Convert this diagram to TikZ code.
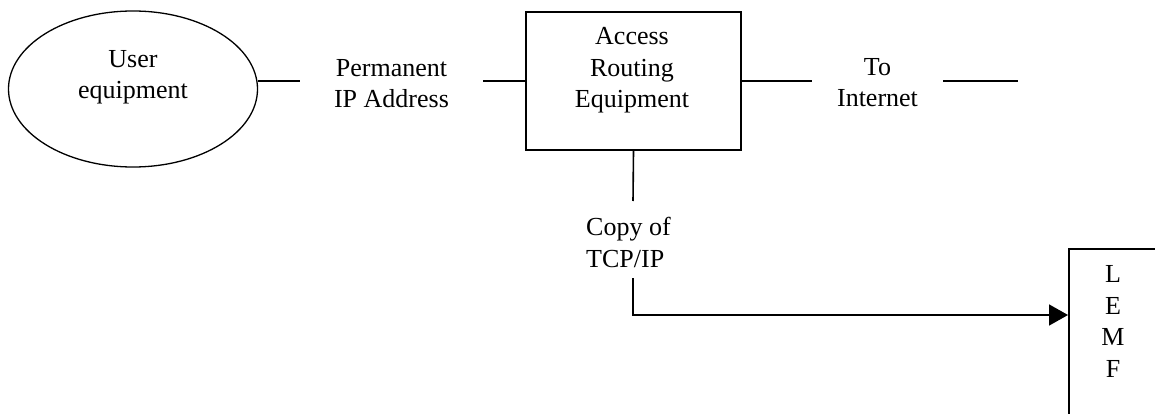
\documentclass[tikz,border=0pt]{standalone}
\usepackage{fontspec}
\setmainfont{Liberation Serif}
\usetikzlibrary{arrows.meta,shapes.geometric}
\begin{document}
\begin{tikzpicture}[x=1pt,y=-1pt,
  every node/.style={font=\fontsize{26}{31.5}\selectfont},
  wire/.style={line width=1.6pt},
  lbl/.style={inner sep=0pt, align=center, anchor=base},
  blk/.style={draw, line width=1.6pt, inner sep=0pt}]
\useasboundingbox (0,0) rectangle (1155,414);
\clip (0,0) rectangle (1155,414);
% shapes
\node[ellipse, draw, line width=1.3pt, minimum width=249pt, minimum height=156pt, inner sep=0pt] (ue) at (133,89) {};
\node[lbl] (uetext) at (133,99) {User\\equipment};
\node[blk, minimum width=215pt, minimum height=138pt] (ar) at (633.5,81) {};
\node[lbl] (artext) at (632,108) {Access\\Routing\\Equipment};
\node[blk, anchor=north west, minimum width=140pt, minimum height=220pt] (lemf) at (1068,248) {};
\node[lbl] (lemftext) at (1113,377) {L\\E\\M\\F};
% labels
\node[lbl, minimum width=183pt] (perm) at (391.5,108) {Permanent\\IP Address};
\node[lbl, minimum width=131pt] (inet) at (877.5,107) {To\\Internet};
\node[inner sep=0pt, align=left, anchor=base west] (copy) at (586,267) {Copy of\\TCP/IP};
\coordinate (cptop) at (633,201);
\coordinate (cpbot) at (633,278);
\coordinate (netend) at (1018,81);
% connectors
\draw[wire] (ue.east |- ar.west) -- (perm.west |- ar.west);
\draw[wire] (perm.east |- ar.west) -- (ar.west);
\draw[wire] (ar.east) -- (inet.west |- ar.east);
\draw[wire] (inet.east |- ar.east) -- (netend);
\draw[wire] (ar.south) -- (cptop);
\draw[wire, -{Triangle[length=19pt,width=21pt]}] (cpbot) |- (lemf.west |- 0,315);
\end{tikzpicture}
\end{document}
